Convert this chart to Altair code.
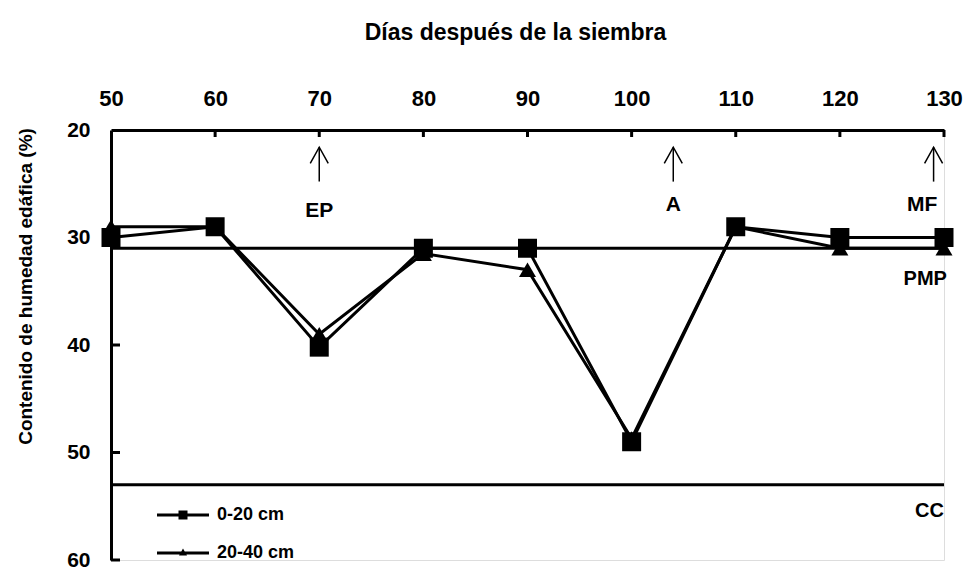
import altair as alt
import pandas as pd

# ---------------- data ----------------
dias = [50, 60, 70, 80, 90, 100, 110, 120, 130]
humedad_0_20 = [30, 29, 40.2, 31, 31, 49, 29, 30, 30]
humedad_20_40 = [29, 29, 39, 31.5, 33, 48.7, 29, 31, 31]
series = ["0-20 cm", "20-40 cm"]

x_ticks = [50, 60, 70, 80, 90, 100, 110, 120, 130]
y_ticks = [20, 30, 40, 50, 60]

ref_values = [31, 53]
ref_labels = ["PMP", "CC"]
ref_label_x = [128.2, 128.6]
ref_label_y = [33.9, 55.4]

ann_x = [70, 104, 129]
ann_labels = ["EP", "A", "MF"]
ann_label_x = [70, 104, 127.9]
ann_label_y = [27.5, 27.0, 27.0]
arrow_top = [21.6, 21.6, 21.6]
arrow_bottom = [24.8, 24.8, 24.8]

FONT = "Liberation Sans, Arial, sans-serif"

# ---------------- tables ----------------
df = pd.DataFrame({
    "x": dias * 2,
    "y": humedad_0_20 + humedad_20_40,
    "serie": [series[0]] * len(dias) + [series[1]] * len(dias),
})
df_ref = pd.DataFrame({"y": ref_values, "x": [x_ticks[0]] * 2, "x2": [x_ticks[-1]] * 2,
                       "label": ref_labels, "lx": ref_label_x, "ly": ref_label_y})
df_ann = pd.DataFrame({"x": ann_x, "y": arrow_top, "y2": arrow_bottom,
                       "label": ann_labels, "lx": ann_label_x, "ly": ann_label_y})
df_xt = pd.DataFrame({"x": x_ticks[1:]})
df_yt = pd.DataFrame({"y": y_ticks[1:]})

xs = alt.Scale(domain=[x_ticks[0], x_ticks[-1]], nice=False, zero=False)
ys = alt.Scale(domain=[y_ticks[0], y_ticks[-1]], nice=False, zero=False, reverse=True)

xaxis = alt.Axis(orient="top", values=x_ticks, title="Días después de la siembra",
                 ticks=False, tickSize=0, grid=False, domainColor="black", domainWidth=3,
                 labelFont=FONT, labelFontSize=22, labelFontWeight="bold", labelColor="black",
                 labelPadding=25, labelBaseline="alphabetic", labelFlush=False,
                 labelOverlap=False,
                 titleFont=FONT, titleFontSize=23, titleFontWeight="bold",
                 titleColor="black", titleX=404, titleY=-91, titleBaseline="alphabetic",
                 titleAlign="center")
yaxis = alt.Axis(orient="left", values=y_ticks, title="Contenido de humedad edáfica (%)",
                 ticks=False, tickSize=0, grid=False, domainColor="black", domainWidth=3,
                 labelFont=FONT, labelFontSize=21, labelFontWeight="bold", labelColor="black",
                 labelPadding=21, labelBaseline="middle", labelFlush=False, labelOverlap=False,
                 titleFont=FONT, titleFontSize=19, titleFontWeight="bold", titleColor="black",
                 titleX=-86, titleY=156, titleAngle=-90, titleBaseline="middle", titleAlign="center")

X = alt.X("x:Q", scale=xs, axis=xaxis)
Y = alt.Y("y:Q", scale=ys, axis=yaxis)

base = alt.Chart(df)

# legend carrier (hidden under the markers)
leg_paths = [
    "M-2.6,-0.14 L2.6,-0.14 L2.6,0.14 L-2.6,0.14 Z M-0.45,-0.45 L0.45,-0.45 L0.45,0.45 L-0.45,0.45 Z",
    "M-2.6,-0.14 L2.6,-0.14 L2.6,0.14 L-2.6,0.14 Z M0,-0.45 L0.4,0.25 L-0.4,0.25 Z",
]
legend_layer = base.mark_point(filled=True, color="black", size=1).encode(
    x=X, y=Y,
    shape=alt.Shape("serie:N", scale=alt.Scale(domain=series, range=leg_paths),
                    legend=alt.Legend(orient="none", legendX=62, legendY=375, title=None,
                                      padding=0, offset=0, symbolSize=400,
                                      symbolFillColor="black", symbolStrokeWidth=0,
                                      symbolOpacity=1,
                                      labelFont=FONT, labelFontSize=18, labelFontWeight="bold",
                                      labelColor="black", labelOffset=24, rowPadding=19,
                                      labelBaseline="middle")),
)

lines = base.mark_line(color="black", strokeWidth=3).encode(
    x=X, y=Y, detail="serie:N"
)
tri = alt.Chart(df[df["serie"] == series[1]]).mark_point(
    shape="triangle-up", filled=True, color="black", size=290, opacity=1
).encode(x=X, y=Y)
sq = alt.Chart(df[df["serie"] == series[0]]).mark_point(
    shape="square", filled=True, color="black", size=361, opacity=1
).encode(x=X, y=Y)

ref_rules = alt.Chart(df_ref).mark_rule(color="black", strokeWidth=3).encode(
    x=X, x2="x2:Q", y=Y
)
ref_text = alt.Chart(df_ref).mark_text(font=FONT, fontSize=20, fontWeight="bold",
                                       color="black", align="center", baseline="middle").encode(
    x=alt.X("lx:Q", scale=xs, axis=xaxis), y=alt.Y("ly:Q", scale=ys, axis=yaxis), text="label:N"
)

arrows = alt.Chart(df_ann).mark_rule(color="black", strokeWidth=1.5).encode(
    x=X, y=Y, y2="y2:Q"
)
heads = alt.Chart(df_ann).mark_point(shape="M-1,1.8 L0,0 L1,1.8", filled=False, color="black",
                                     strokeWidth=1.5, size=324, opacity=1).encode(x=X, y=Y)
ann_text = alt.Chart(df_ann).mark_text(font=FONT, fontSize=21, fontWeight="bold",
                                       color="black", align="center", baseline="middle").encode(
    x=alt.X("lx:Q", scale=xs, axis=xaxis), y=alt.Y("ly:Q", scale=ys, axis=yaxis), text="label:N"
)

xt = alt.Chart(df_xt).mark_rule(color="black", strokeWidth=3).encode(
    x=X, y=alt.value(0), y2=alt.value(7)
)
yt = alt.Chart(df_yt).mark_rule(color="black", strokeWidth=3).encode(
    y=Y, x=alt.value(0), x2=alt.value(9)
)

chart = alt.layer(
    legend_layer, ref_rules, lines, tri, sq, arrows, heads, ann_text, ref_text, xt, yt
).properties(
    width=833, height=430,
    autosize=alt.AutoSizeParams(type="none"),
    padding={"left": 103, "top": 122, "right": 20, "bottom": 11},
).configure_view(stroke=None).configure(background="white")

chart.save("out.html", embed_options={"renderer": "svg", "actions": False})
